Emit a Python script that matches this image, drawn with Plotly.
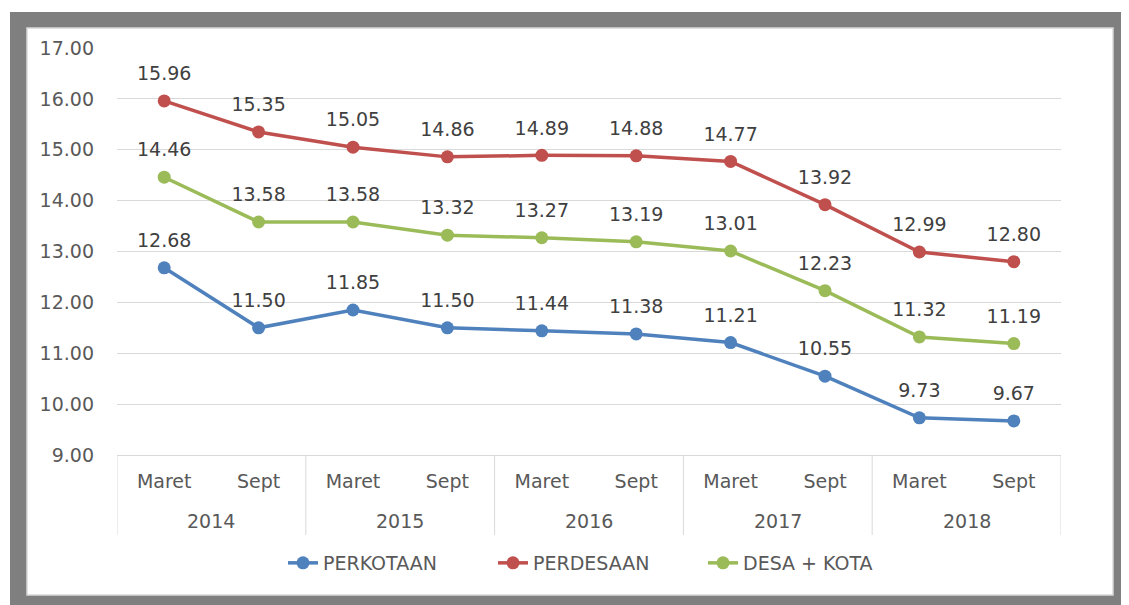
import plotly.graph_objects as go

years = ["2014", "2014", "2015", "2015", "2016", "2016", "2017", "2017", "2018", "2018"]
months = ["Maret", "Sept", "Maret", "Sept", "Maret", "Sept", "Maret", "Sept", "Maret", "Sept"]
perkotaan = [12.68, 11.50, 11.85, 11.50, 11.44, 11.38, 11.21, 10.55, 9.73, 9.67]
perdesaan = [15.96, 15.35, 15.05, 14.86, 14.89, 14.88, 14.77, 13.92, 12.99, 12.80]
desa_kota = [14.46, 13.58, 13.58, 13.32, 13.27, 13.19, 13.01, 12.23, 11.32, 11.19]
y_ticks = [9, 10, 11, 12, 13, 14, 15, 16, 17]

FONT = "DejaVu Sans"
W, H = 1129, 605
OFF = 8  # page body margin offset (screen px = figure px + OFF)
# plot area in screen px
SL, SR, ST, SB = 117, 1061, 48, 455
L, R, T, B = SL - OFF, SR - OFF, ST - OFF, SB - OFF
pw, ph = R - L, B - T

def px_x(p):  # screen px -> paper
    return (p - OFF - L) / pw

def px_y(p):
    return (B - (p - OFF)) / ph

idx = list(range(len(months)))

series = [
    ("PERKOTAAN", perkotaan, "#4F81BD"),
    ("PERDESAAN", perdesaan, "#C0504D"),
    ("DESA + KOTA", desa_kota, "#9BBB59"),
]

fig = go.Figure()
for name, vals, col in series:
    fig.add_trace(go.Scatter(
        x=idx, y=vals, name=name, mode="lines+markers",
        line=dict(color=col, width=3.5),
        marker=dict(color=col, size=13),
        hoverinfo="skip",
    ))
for name, vals, col in series:
    fig.add_trace(go.Scatter(
        x=idx, y=vals, mode="markers+text", showlegend=False,
        marker=dict(size=24, opacity=0),
        text=[f"{v:.2f}" for v in vals], textposition="top center",
        textfont=dict(family=FONT, size=19, color="#404040"),
        hoverinfo="skip",
    ))

shapes = [
    dict(type="rect", xref="paper", yref="paper", layer="below",
         x0=px_x(10), x1=px_x(1160), y0=px_y(640), y1=px_y(12),
         fillcolor="#7F7F7F", line=dict(width=0)),
    dict(type="rect", xref="paper", yref="paper", layer="below",
         x0=px_x(27), x1=px_x(1113), y0=px_y(595), y1=px_y(28),
         fillcolor="#FFFFFF", line=dict(color="#D9D9D9", width=1.5)),
]

# year group dividers & labels derived from data
groups = []
for i, yv in enumerate(years):
    if not groups or groups[-1][0] != yv:
        groups.append([yv, i, i])
    else:
        groups[-1][2] = i
bounds = [g[1] - 0.5 for g in groups] + [groups[-1][2] + 0.5]
for bx in bounds:
    shapes.append(dict(type="line", xref="x", yref="paper",
                       x0=bx, x1=bx, y0=0, y1=px_y(535),
                       line=dict(color="#D9D9D9", width=1)))

annotations = []
for yv, a, b in groups:
    annotations.append(dict(x=(a + b) / 2, y=px_y(521), xref="x", yref="paper",
                            text=yv, showarrow=False, yanchor="middle",
                            font=dict(family=FONT, size=19, color="#595959")))

fig.update_layout(
    width=W, height=H,
    margin=dict(l=L, r=W - R, t=T, b=H - B, pad=0),
    paper_bgcolor="#FFFFFF", plot_bgcolor="rgba(0,0,0,0)",
    shapes=shapes, annotations=annotations,
    showlegend=True,
    legend=dict(orientation="h", x=px_x(283), xanchor="left",
                y=px_y(563), yanchor="middle",
                font=dict(family=FONT, size=19, color="#595959"),
                bgcolor="rgba(0,0,0,0)", entrywidth=165, entrywidthmode="pixels",
                itemclick=False),
    xaxis=dict(range=[-0.5, len(months) - 0.5], tickmode="array", tickvals=idx,
               ticktext=months, showgrid=False, zeroline=False,
               showline=True, linecolor="#D9D9D9", linewidth=1, ticks="",
               ticklabelstandoff=9,
               tickfont=dict(family=FONT, size=19, color="#595959"), fixedrange=True),
    yaxis=dict(range=[9, 17], tickmode="array", tickvals=y_ticks,
               ticktext=[f"{v:.2f}" for v in y_ticks],
               showgrid=True, gridcolor="#D9D9D9", gridwidth=1, zeroline=False,
               showline=False, ticks="", ticklabelstandoff=22,
               tickfont=dict(family=FONT, size=19, color="#595959"), fixedrange=True),
    hovermode=False,
)

fig.write_html("out.html")
